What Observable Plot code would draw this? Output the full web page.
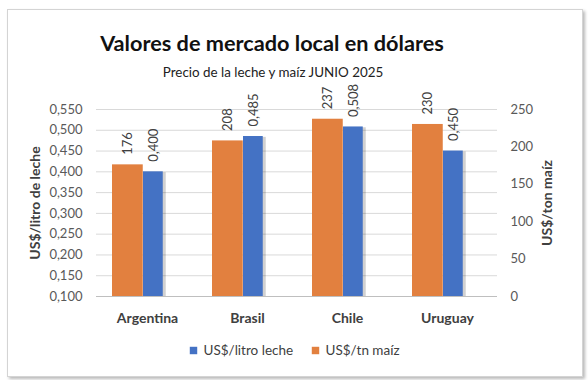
<!DOCTYPE html>
<html><head><meta charset="utf-8">
<script src="https://cdn.jsdelivr.net/npm/d3@7"></script>
<script src="https://cdn.jsdelivr.net/npm/@observablehq/plot@0.6"></script>
<style>
body{margin:0;background:#fff;}
#wrap{position:relative;width:588px;height:380px;font-family:Lato,sans-serif;}
#card{position:absolute;left:7px;top:9px;width:574px;height:366px;border:1px solid #d4d4d4;box-shadow:2px 2px 3px rgba(0,0,0,0.28);background:#fff;}
#chart{position:absolute;left:0;top:0;}
</style></head>
<body>
<div id="wrap"><div id="card"></div><div id="chart"></div></div>
<script>
const countries = ["Argentina","Brasil","Chile","Uruguay"];
const leche = [0.400,0.485,0.508,0.450];
const maiz = [176,208,237,230];
const leftTicks = [0.10,0.15,0.20,0.25,0.30,0.35,0.40,0.45,0.50,0.55];
const rightTicks = [0,50,100,150,200,250];
const title = "Valores de mercado local en dólares";
const subtitle = "Precio de la leche y maíz JUNIO 2025";
const seriesNames = ["US$/litro leche","US$/tn maíz"];
const leftLabel = "US$/litro de leche";
const rightLabel = "US$/ton maíz";

const L0 = 0.1, L1 = 0.55, R1 = 250;
const toLeft = v => L0 + v / R1 * (L1 - L0);
const fromLeft = d => Math.round((d - L0) / (L1 - L0) * R1);
const data = countries.map((c,i)=>({country:c, leche:leche[i], maiz:maiz[i], maizL:toLeft(maiz[i])}));
const ORANGE = "#E2803F", BLUE = "#4472C4";
const bw = (588-96-91)/4;

const plot = Plot.plot({
  width:588, height:380,
  marginTop:109, marginBottom:84, marginLeft:96, marginRight:91,
  style:{background:"transparent", fontFamily:"Lato, sans-serif", overflow:"visible"},
  x:{domain:countries, padding:0, axis:null},
  y:{domain:[L0,L1], axis:null},
  marks:[
    Plot.ruleY(leftTicks.slice(1), {stroke:"#d9d9d9"}),
    Plot.ruleY([L0], {stroke:"#bfbfbf"}),
    Plot.axisY(leftTicks, {anchor:"left", tickSize:0, tickPadding:14, fontSize:13, fill:"#595959", label:null, tickFormat:d=>d.toFixed(3).replace(".",",")}),
    Plot.axisY(rightTicks.map(toLeft), {anchor:"right", tickSize:0, tickPadding:13, fontSize:13, fill:"#595959", label:null, tickFormat:d=>String(fromLeft(d))}),
    Plot.barY(data, {x:"country", y1:()=>L0, y2:"maizL", fill:ORANGE, insetLeft:15, insetRight:bw-46}),
    Plot.barY(data, {x:"country", y1:()=>L0, y2:d=>d.leche-0.002, fill:"#000", fillOpacity:0.18, insetLeft:48, insetRight:bw-69}),
    Plot.barY(data, {x:"country", y1:()=>L0, y2:"leche", fill:BLUE, insetLeft:46, insetRight:bw-66}),
    Plot.text(data, {x:"country", y:"maizL", text:d=>String(d.maiz), rotate:-90, textAnchor:"start", dy:-10, dx:30.5-bw/2, fontSize:13, fill:"#404040"}),
    Plot.text(data, {x:"country", y:"leche", text:d=>d.leche.toFixed(3).replace(".",","), rotate:-90, textAnchor:"start", dy:-10, dx:56-bw/2, fontSize:13, fill:"#404040"}),
    Plot.text(data, {x:"country", frameAnchor:"bottom", dy:22, lineAnchor:"middle", text:"country", fontSize:14, fontWeight:"bold", fill:"#404040"}),
    Plot.text([leftLabel], {frameAnchor:"left", dx:-61, rotate:-90, text:d=>d, textAnchor:"middle", fontSize:14, fontWeight:"bold", fill:"#404040", lineAnchor:"middle"}),
    Plot.text([rightLabel], {frameAnchor:"right", dx:50, rotate:-90, text:d=>d, textAnchor:"middle", fontSize:14, fontWeight:"bold", fill:"#404040", lineAnchor:"middle"}),
    Plot.text([title], {frameAnchor:"top", dx:271.5-296.5, dy:50-109, lineAnchor:"bottom", text:d=>d, fontSize:21.7, fontWeight:"bold", fill:"#111"}),
    Plot.text([subtitle], {frameAnchor:"top", dx:272.5-296.5, dy:76-109, lineAnchor:"bottom", text:d=>d, fontSize:13.4, fill:"#222"}),
    Plot.dot([0], {frameAnchor:"bottom", dx:193-296.5, dy:54, symbol:"square", r:4.2, fill:BLUE}),
    Plot.text([seriesNames[0]], {frameAnchor:"bottom", dx:203-296.5, dy:54, textAnchor:"start", lineAnchor:"middle", text:d=>d, fontSize:13.5, fill:"#404040"}),
    Plot.dot([0], {frameAnchor:"bottom", dx:315-296.5, dy:54, symbol:"square", r:4.2, fill:ORANGE}),
    Plot.text([seriesNames[1]], {frameAnchor:"bottom", dx:325-296.5, dy:54, textAnchor:"start", lineAnchor:"middle", text:d=>d, fontSize:13.5, fill:"#404040"})
  ]
});
document.getElementById("chart").appendChild(plot);
</script>
</body></html>
